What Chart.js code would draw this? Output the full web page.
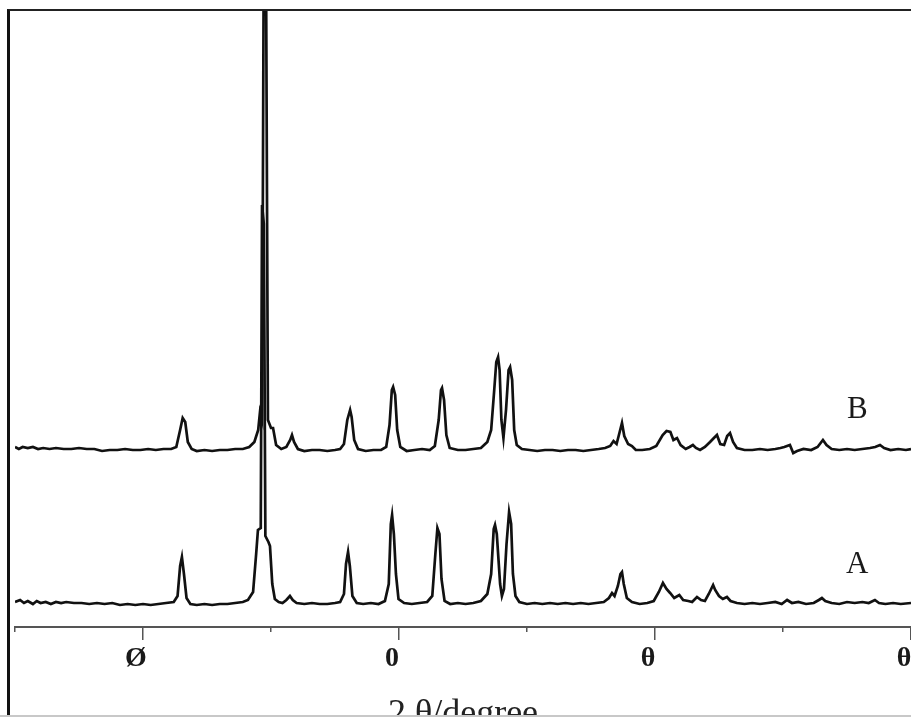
<!DOCTYPE html>
<html>
<head>
<meta charset="utf-8">
<script src="https://cdn.jsdelivr.net/npm/chart.js@4.4.1/dist/chart.umd.min.js"></script>
<style>
    html, body { margin: 0; padding: 0; background: #fff; }
    #wrap { position: relative; width: 911px; height: 717px; overflow: hidden; }
    #frame { position: absolute; left: 7px; top: 9px; width: 910px; height: 720px;
             border-left: 3px solid #111; border-top: 2px solid #222; pointer-events: none; }
    #bottomLine { position: absolute; left: 0; top: 715px; width: 911px; height: 2px; background: #c8c8c8; }
</style>
</head>
<body>
<div id="wrap">
    <canvas id="xrdChart" width="911" height="717"></canvas>
    <div id="frame"></div>
    <div id="bottomLine"></div>
</div>
<script>
// x-axis ticks (2θ, degrees) and the labels as they appear in the figure
const majorTicks = [10, 20, 30, 40];
const minorTicks = [5, 15, 25, 35];
const tickLabels = ['Ø', '0', 'θ', 'θ'];

// vertical stacking of the two patterns (same units as intensity)
const offsetA = 23;
const offsetB = 177;

// pattern A
const angleA = [5.0, 5.2, 5.35, 5.5, 5.7, 5.85, 6.0, 6.2, 6.4, 6.6, 6.8, 7.0, 7.3, 7.6, 7.9, 8.2, 8.5, 8.8, 9.1, 9.4,
    9.7, 10.0, 10.3, 10.6, 10.9, 11.2, 11.35, 11.45, 11.52, 11.6, 11.7, 11.85, 12.1, 12.4, 12.7, 13.0, 13.3, 13.6, 13.9, 14.1,
    14.3, 14.42, 14.49, 14.6, 14.65, 14.72, 14.78, 14.9, 14.96, 15.05, 15.15, 15.3, 15.45, 15.6, 15.74, 15.85, 16.0, 16.3, 16.6, 16.9,
    17.2, 17.5, 17.7, 17.85, 17.93, 18.01, 18.08, 18.18, 18.35, 18.6, 18.9, 19.2, 19.45, 19.6, 19.68, 19.73, 19.8, 19.88, 19.98, 20.2,
    20.5, 20.8, 21.1, 21.3, 21.42, 21.5, 21.58, 21.66, 21.78, 22.0, 22.3, 22.6, 22.9, 23.2, 23.45, 23.6, 23.7, 23.75, 23.82, 23.95,
    24.02, 24.1, 24.2, 24.3, 24.38, 24.45, 24.55, 24.7, 25.0, 25.3, 25.6, 25.9, 26.2, 26.5, 26.8, 27.1, 27.4, 27.7, 28.0, 28.2,
    28.32, 28.42, 28.55, 28.65, 28.71, 28.78, 28.9, 29.1, 29.4, 29.7, 29.95, 30.15, 30.31, 30.45, 30.59, 30.75, 30.95, 31.1, 31.3, 31.45,
    31.64, 31.8, 31.95, 32.1, 32.27, 32.35, 32.5, 32.65, 32.81, 32.95, 33.2, 33.5, 33.8, 34.1, 34.4, 34.7, 34.95, 35.16, 35.35, 35.6,
    35.9, 36.2, 36.4, 36.52, 36.65, 36.9, 37.2, 37.5, 37.8, 38.1, 38.35, 38.59, 38.75, 39.0, 39.3, 39.6, 40.0];
const intensityA = [2, 4, 1, 3, 0, 3, 1, 2, 0, 2, 1, 2, 1, 1, 0, 1, 0, 1, -1, 0,
    -1, 0, -1, 0, 1, 2, 8, 38, 47, 30, 6, 0, -1, 0, -1, 0, 0, 1, 2, 4,
    12, 50, 74, 76, 399, 380, 68, 62, 58, 20, 5, 2, 1, 4, 8, 4, 1, 0, 1, 0,
    0, 1, 2, 10, 40, 52, 38, 8, 1, 0, 1, 0, 3, 20, 80, 89, 70, 30, 5, 1,
    0, 1, 2, 8, 50, 76, 70, 25, 3, 0, 1, 0, 1, 3, 10, 30, 75, 79, 70, 20,
    8, 15, 60, 92, 80, 30, 8, 2, 0, 1, 0, 1, 0, 1, 0, 1, 0, 1, 2, 6,
    11, 8, 18, 30, 32, 20, 6, 2, 0, 1, 3, 12, 21, 15, 11, 6, 9, 4, 3, 2,
    7, 4, 3, 10, 19, 14, 8, 5, 7, 3, 1, 0, 1, 0, 1, 2, 0, 4, 1, 2,
    0, 1, 4, 6, 3, 1, 0, 2, 1, 2, 1, 4, 1, 0, 1, 0, 1];

// pattern B
const angleB = [5.0, 5.15, 5.3, 5.5, 5.7, 5.9, 6.1, 6.35, 6.6, 6.9, 7.2, 7.5, 7.8, 8.1, 8.4, 8.7, 9.0, 9.3, 9.6, 9.9,
    10.2, 10.5, 10.8, 11.1, 11.3, 11.45, 11.55, 11.65, 11.75, 11.9, 12.1, 12.4, 12.7, 13.0, 13.3, 13.6, 13.9, 14.15, 14.35, 14.5,
    14.57, 14.65, 14.72, 14.8, 14.88, 15.0, 15.08, 15.2, 15.4, 15.6, 15.75, 15.82, 15.9, 16.05, 16.3, 16.6, 16.9, 17.2, 17.5, 17.7,
    17.85, 17.98, 18.09, 18.15, 18.25, 18.4, 18.7, 19.0, 19.3, 19.5, 19.63, 19.72, 19.77, 19.85, 19.93, 20.05, 20.3, 20.6, 20.9, 21.2,
    21.4, 21.55, 21.64, 21.68, 21.76, 21.85, 21.98, 22.3, 22.6, 22.9, 23.2, 23.45, 23.6, 23.72, 23.8, 23.87, 23.93, 24.0, 24.08, 24.18,
    24.28, 24.34, 24.42, 24.5, 24.6, 24.8, 25.1, 25.4, 25.7, 26.0, 26.3, 26.6, 26.9, 27.2, 27.5, 27.8, 28.05, 28.25, 28.38, 28.5,
    28.62, 28.71, 28.8, 28.95, 29.1, 29.25, 29.5, 29.8, 30.05, 30.3, 30.45, 30.6, 30.72, 30.86, 31.0, 31.2, 31.35, 31.48, 31.6, 31.76,
    31.95, 32.15, 32.3, 32.42, 32.55, 32.7, 32.82, 32.93, 33.05, 33.2, 33.5, 33.8, 34.1, 34.4, 34.7, 34.9, 35.05, 35.27, 35.4, 35.55,
    35.8, 36.1, 36.35, 36.56, 36.7, 36.9, 37.2, 37.5, 37.8, 38.1, 38.4, 38.6, 38.79, 38.95, 39.2, 39.5, 39.8, 40.0];
const intensityB = [3, 1, 3, 2, 3, 1, 2, 1, 2, 1, 1, 2, 1, 1, -1, 0, 0, 1, 0, 0,
    1, 0, 1, 1, 3, 20, 32, 28, 8, 1, -1, 0, -1, 0, 0, 1, 1, 3, 8, 20,
    38, 30, 520, 520, 30, 22, 22, 5, 1, 3, 10, 15, 8, 1, -1, 0, 0, -1, 0, 1,
    6, 30, 40, 33, 10, 1, -1, 0, 0, 3, 25, 60, 63, 55, 20, 3, -1, 0, 1, 0,
    4, 30, 60, 62, 50, 15, 2, 0, 0, 1, 2, 8, 20, 60, 88, 93, 80, 30, 12, 40,
    80, 83, 70, 20, 5, 1, 0, -1, 0, 0, -1, 0, 0, -1, 0, 1, 2, 4, 9, 6,
    18, 27, 14, 6, 4, 0, 0, 1, 4, 15, 19, 18, 10, 12, 5, 1, 3, 5, 2, 0,
    3, 8, 12, 15, 6, 5, 14, 17, 8, 2, 0, 0, 1, 0, 1, 2, 3, 5, -3, -1,
    1, 0, 3, 10, 5, 1, 0, 1, 0, 1, 2, 3, 5, 2, 0, 1, 0, 1];

const seriesNames = ['A', 'B'];

function toPoints(angles, values, offset) {
    return angles.map((a, i) => ({ x: a, y: values[i] + offset }));
}

const serif = "'Liberation Serif', 'DejaVu Serif', serif";

// names A / B next to each pattern, placed in data coordinates
const seriesLabelPlugin = {
    id: 'seriesLabels',
    afterDatasetsDraw(chart) {
        const { ctx, scales } = chart;
        const spots = [{ text: seriesNames[0], x: 37.9, y: 62 }, { text: seriesNames[1], x: 37.9, y: 217 }];
        ctx.save();
        ctx.fillStyle = '#1a1a1a';
        ctx.font = '31px ' + serif;
        ctx.textAlign = 'center';
        ctx.textBaseline = 'middle';
        spots.forEach(s => {
            ctx.fillText(s.text, scales.x.getPixelForValue(s.x), scales.y.getPixelForValue(s.y));
        });
        ctx.restore();
    }
};

const chart = new Chart(document.getElementById('xrdChart'), {
    type: 'line',
    data: {
        datasets: [
            {
                label: seriesNames[0],
                data: toPoints(angleA, intensityA, offsetA),
                borderColor: '#111',
                borderWidth: 2.7,
                pointRadius: 0,
                tension: 0
            },
            {
                label: seriesNames[1],
                data: toPoints(angleB, intensityB, offsetB),
                borderColor: '#111',
                borderWidth: 2.7,
                pointRadius: 0,
                tension: 0
            }
        ]
    },
    options: {
        responsive: false,
        animation: false,
        devicePixelRatio: 1,
        layout: { padding: { left: 15, top: 10, right: 0, bottom: 0 } },
        plugins: {
            legend: { display: false },
            tooltip: { enabled: false }
        },
        scales: {
            x: {
                type: 'linear',
                position: 'bottom',
                weight: 1,
                min: 5,
                max: 40,
                border: { display: true, color: '#555', width: 2 },
                grid: { drawOnChartArea: false, drawTicks: true, tickLength: 13, color: '#555', lineWidth: 1.5 },
                afterBuildTicks: (scale) => { scale.ticks = majorTicks.map(v => ({ value: v })); },
                afterFit: (scale) => { scale.height = 90; scale.paddingLeft = 0; scale.paddingRight = 0; },
                ticks: {
                    color: '#1a1a1a',
                    font: { family: serif, size: 28, weight: 'bold' },
                    padding: 2,
                    labelOffset: -7,
                    maxRotation: 0,
                    callback: (value, index) => tickLabels[index]
                },
                title: {
                    display: true,
                    text: '2 θ/degree',
                    color: '#222',
                    font: { family: serif, size: 36 },
                    padding: { top: 0, bottom: -19 }
                }
            },
            x2: {
                type: 'linear',
                position: 'bottom',
                weight: 0,
                min: 5,
                max: 40,
                border: { display: false },
                grid: { drawOnChartArea: false, drawTicks: true, tickLength: 5, color: '#555', lineWidth: 1.5 },
                afterBuildTicks: (scale) => { scale.ticks = minorTicks.map(v => ({ value: v })); },
                afterFit: (scale) => { scale.height = 0; scale.paddingLeft = 0; scale.paddingRight = 0; },
                ticks: { display: false }
            },
            y: {
                display: false,
                min: 0,
                max: 617
            }
        }
    },
    plugins: [seriesLabelPlugin]
});
</script>
</body>
</html>
